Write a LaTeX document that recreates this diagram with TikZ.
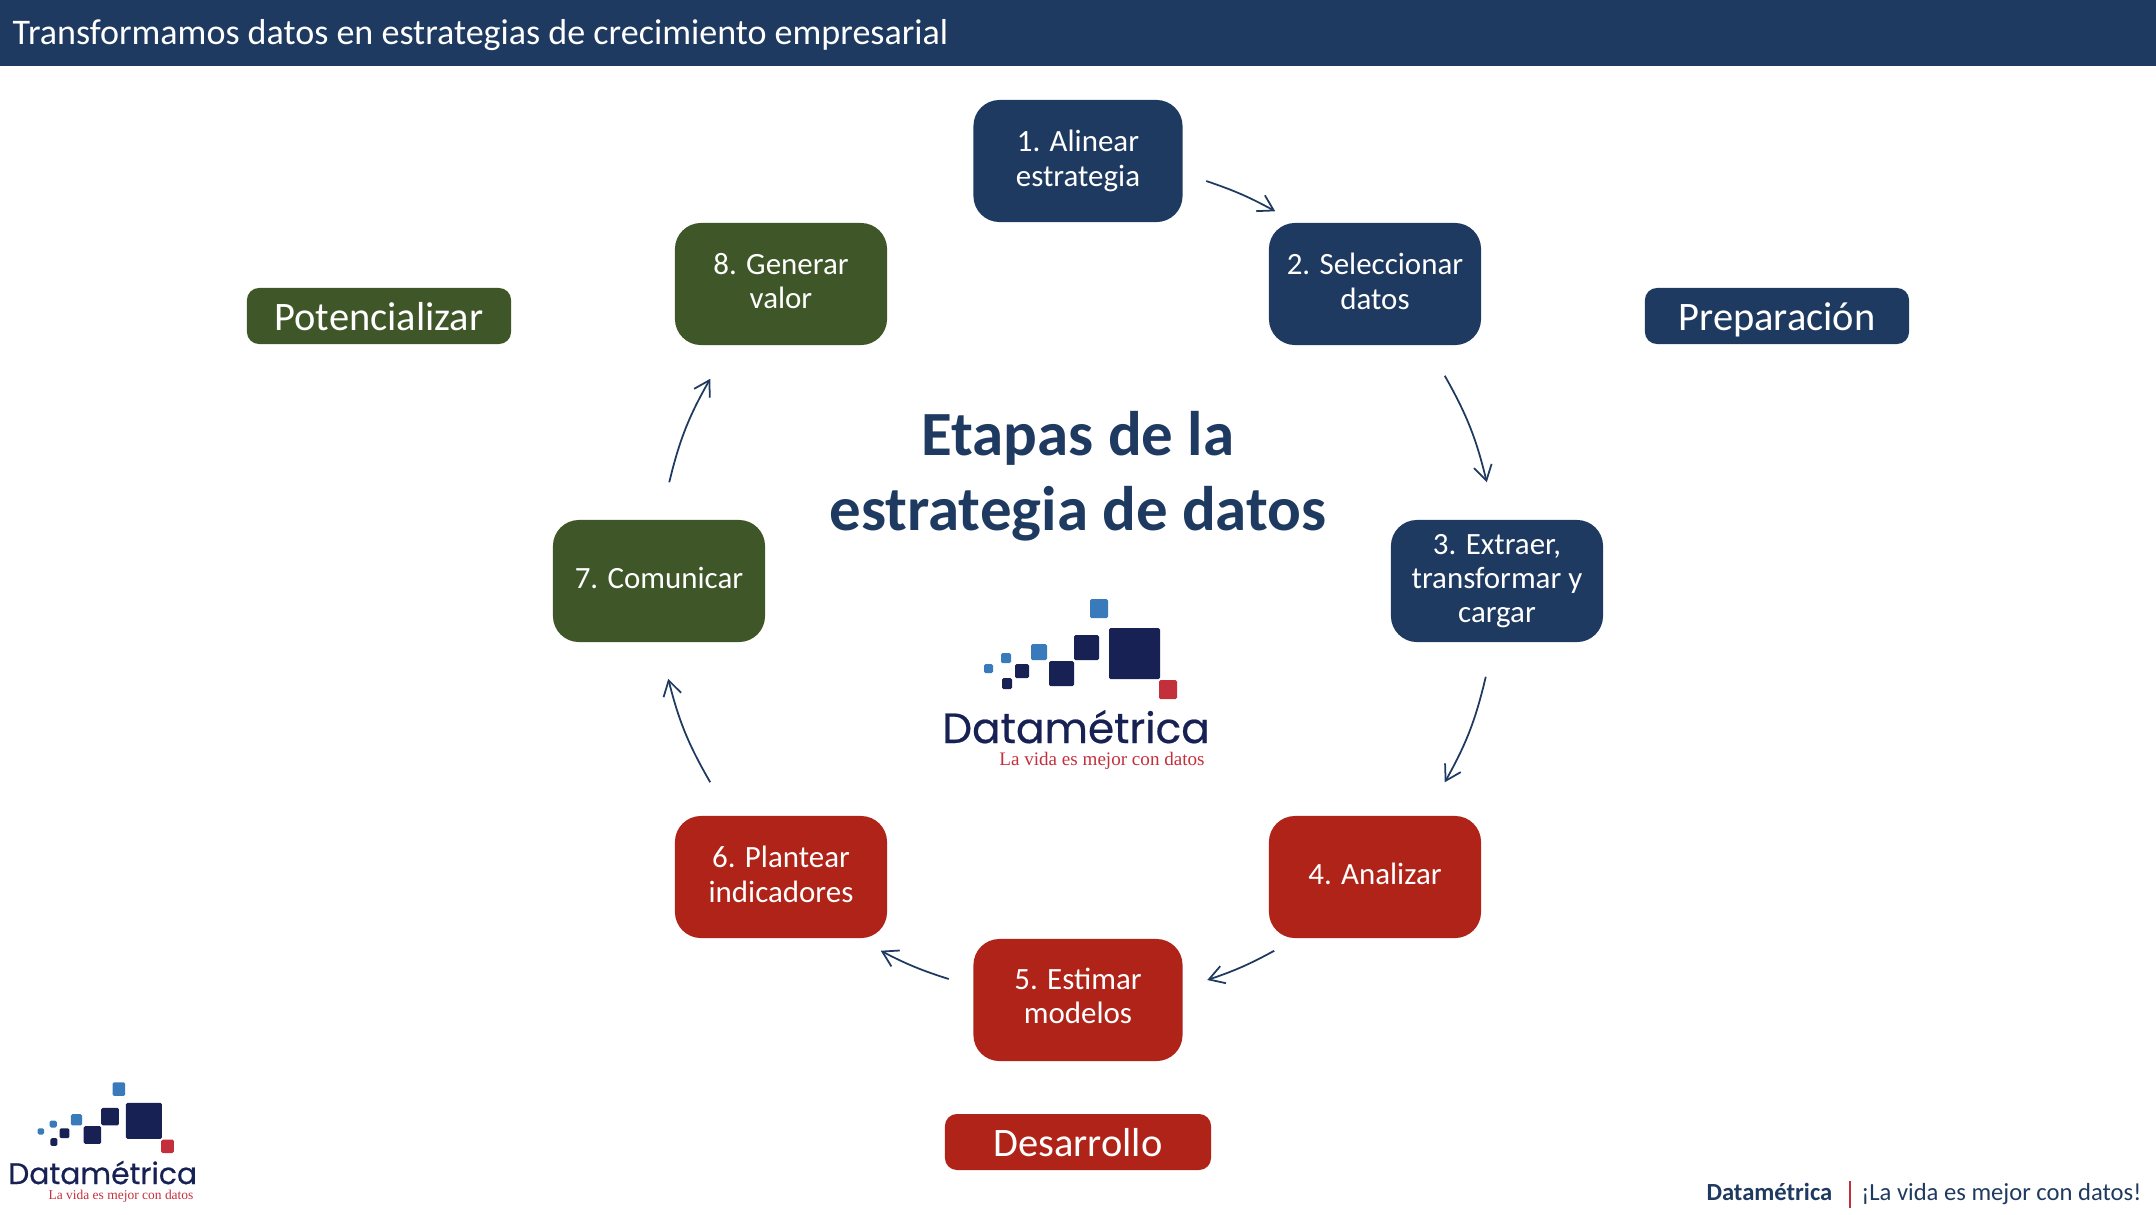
\documentclass[tikz,border=0pt]{standalone}
\usepackage{fontspec}
\setmainfont{Carlito}
\newfontfamily\marcafont[RawFeature={embolden=0.5}]{Poppins}
\newfontfamily\lemafont{Liberation Serif}
\usepackage{xcolor}
\usetikzlibrary{calc, arrows.meta}

\definecolor{azul}{RGB}{31,58,96}
\definecolor{rojo}{RGB}{176,35,24}
\definecolor{verde}{RGB}{63,87,40}
\definecolor{marino}{RGB}{23,33,84}
\definecolor{celeste}{RGB}{57,122,187}
\definecolor{carmin}{RGB}{196,47,60}

\tikzset{
	etapa/.style = {rectangle, rounded corners = 2.6mm, minimum width = 2.12cm, minimum height = 1.22cm, inner sep = 0pt, text = white, align = center, font = \fontsize{8.8}{9.75}\selectfont},
	subida/.style = {text depth = 1.6pt},
	fase/.style = {rectangle, rounded corners = 1.2mm, minimum height = 0.56cm, inner sep = 0pt, text height = 10pt, text depth = 2pt, text = white, font = \fontsize{11.5}{12}\selectfont},
	flecha/.style = {-{Straight Barb[length = 1.5mm, width = 1.8mm]}, azul, line width = 0.5pt},
}

\newcommand{\logomarca}[4]{
	\begin{scope}[shift = {(#2,#3)}, scale = #4, transform shape]
		\foreach \xa/\ya/\xb/\yb/\tono in {
			1090/599/1108/618/celeste, 1109/628/1160/679/marino, 1074/635/1099/660/marino,
			1049/661/1074/686/marino, 1031/644/1047/660/celeste, 1001/653/1011/663/celeste,
			1015/664/1029/678/marino, 1002/678/1012/689/marino, 984/664/993/673/celeste,
			1159/680/1177/699/carmin}
			\fill [\tono, rounded corners = 0.15mm] (\xa,\ya) rectangle (\xb,\yb);
		\node (nombre#1) [anchor = base, text = marino, inner sep = 0pt, font = \marcafont\fontsize{12}{14}\selectfont] at (1076,743) {Datamétrica};
		\node (lema#1) [anchor = base, text = carmin, inner sep = 0pt, font = \lemafont\fontsize{5.43}{7}\selectfont] at (1102,765) {La vida es mejor con datos};
	\end{scope}
}

\begin{document}
\begin{tikzpicture}[x = 0.01cm, y = -0.01cm]
	\useasboundingbox (0,0) rectangle (2156,1214);

	\fill [azul] (0,0) rectangle (2156,66);
	\node (titulo) [anchor = base west, text = white, inner sep = 0pt, font = \fontsize{10.25}{11}\selectfont] at (12,44) {Transformamos datos en estrategias de crecimiento empresarial};

	\node (n1) [etapa, fill = azul, minimum width = 2.09cm] at (1078,161) {1. Alinear\\estrategia};
	\node (n2) [etapa, subida, fill = azul] at (1375,284) {2. Seleccionar\\datos};
	\node (n3) [etapa, fill = azul] at (1497,581) {3. Extraer,\\transformar y\\cargar};
	\node (n4) [etapa, subida, fill = rojo] at (1375,877) {4. Analizar};
	\node (n5) [etapa, text depth = 2.3pt, fill = rojo, minimum width = 2.09cm] at (1078,1000) {5. Estimar\\modelos};
	\node (n6) [etapa, subida, fill = rojo] at (781,877) {6. Plantear\\indicadores};
	\node (n7) [etapa, subida, fill = verde] at (659,581) {7. Comunicar};
	\node (n8) [etapa, subida, fill = verde] at (781,284) {8. Generar\\valor};

	\draw [flecha] ($(n1.east)+(23,20)$) to [bend left = 5] ($(n2.north west)+(7,-11)$);
	\draw [flecha] ($(n2.south east)+(-37,30)$) to [bend left = 8] ($(n3.north east)+(-117,-37)$);
	\draw [flecha] ($(n3.south east)+(-118,34)$) to [bend left = 8] ($(n4.north east)+(-37,-33)$);
	\draw [flecha] ($(n4.south west)+(6,12)$) to [bend left = 5] ($(n5.east)+(24,-20)$);
	\draw [flecha] ($(n5.west)+(-24,-21)$) to [bend left = 5] ($(n6.south east)+(-7,12)$);
	\draw [flecha] ($(n6.north west)+(36,-33)$) to [bend left = 8] ($(n7.south west)+(116,36)$);
	\draw [flecha] ($(n7.north west)+(117,-37)$) to [bend left = 8] ($(n8.south west)+(36,33)$);

	\node (fase1) [fase, fill = verde, minimum width = 2.64cm] at (379,316) {Potencializar};
	\node (fase2) [fase, fill = azul, minimum width = 2.64cm] at (1777,316) {Preparación};
	\node (fase3) [fase, fill = rojo, minimum width = 2.66cm] at (1078,1142) {Desarrollo};

	\node (centro) [text = azul, align = center, inner sep = 0pt, font = \bfseries\fontsize{17.9}{21.4}\selectfont] at (1078,476) {Etapas de la\\estrategia de datos};

	\logomarca{a}{0}{0}{1}
	\logomarca{b}{-657}{659.5}{0.706}

	\node (pie1) [anchor = base east, text = azul, inner sep = 0pt, font = \bfseries\fontsize{7}{8}\selectfont] at (1833,1200) {Datamétrica};
	\coordinate (barra1) at (1850,1181);
	\coordinate (barra2) at (1850,1208);
	\draw [carmin, line width = 0.5pt] (barra1) -- (barra2);
	\node (pie2) [anchor = base east, text = azul, inner sep = 0pt, font = \fontsize{7}{8}\selectfont] at (2142,1200) {¡La vida es mejor con datos!};
\end{tikzpicture}
\end{document}
